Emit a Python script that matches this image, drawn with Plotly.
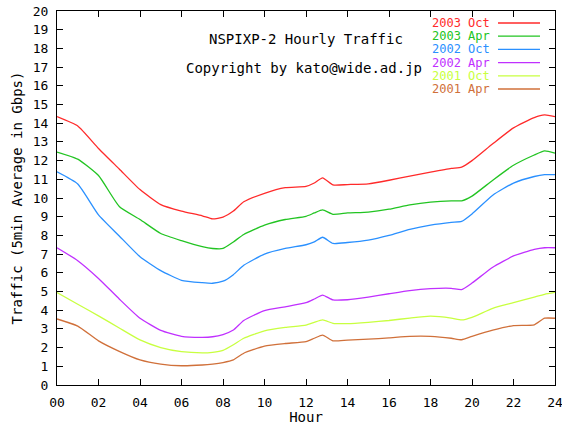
import plotly.graph_objects as go

hours = [0, 1, 2, 3, 4, 5, 6, 7, 7.5, 8, 8.5, 9, 10, 11, 12, 12.4, 12.8, 13.3, 14, 15, 16, 17, 18, 19, 19.5, 20, 21, 22, 23, 23.5, 24]

oct_2003 = [14.35, 13.85, 12.65, 11.55, 10.45, 9.65, 9.3, 9.05, 8.88, 8.98, 9.3, 9.8, 10.25, 10.55, 10.62, 10.8, 11.08, 10.7, 10.72, 10.76, 10.95, 11.17, 11.38, 11.58, 11.65, 12.0, 12.9, 13.75, 14.3, 14.44, 14.35]
apr_2003 = [12.46, 12.08, 11.2, 9.55, 8.85, 8.1, 7.72, 7.4, 7.3, 7.3, 7.65, 8.05, 8.55, 8.85, 9.02, 9.2, 9.36, 9.13, 9.2, 9.25, 9.4, 9.63, 9.78, 9.85, 9.85, 10.1, 10.95, 11.75, 12.3, 12.52, 12.4]
oct_2002 = [11.4, 10.75, 9.1, 7.97, 6.86, 6.12, 5.6, 5.47, 5.44, 5.55, 5.9, 6.4, 7.0, 7.3, 7.5, 7.65, 7.9, 7.57, 7.62, 7.75, 8.0, 8.32, 8.55, 8.7, 8.75, 9.15, 10.15, 10.8, 11.15, 11.25, 11.25]
apr_2002 = [7.34, 6.65, 5.7, 4.6, 3.57, 2.92, 2.6, 2.55, 2.58, 2.7, 2.94, 3.45, 3.98, 4.18, 4.4, 4.6, 4.81, 4.55, 4.56, 4.7, 4.88, 5.05, 5.15, 5.17, 5.1, 5.45, 6.3, 6.9, 7.25, 7.34, 7.34]
oct_2001 = [4.94, 4.32, 3.7, 3.05, 2.41, 2.0, 1.78, 1.72, 1.75, 1.85, 2.15, 2.5, 2.9, 3.08, 3.2, 3.35, 3.48, 3.3, 3.28, 3.35, 3.45, 3.58, 3.68, 3.58, 3.48, 3.62, 4.1, 4.4, 4.7, 4.85, 4.95]
apr_2001 = [3.53, 3.15, 2.36, 1.8, 1.34, 1.12, 1.03, 1.07, 1.12, 1.2, 1.34, 1.7, 2.08, 2.22, 2.32, 2.5, 2.67, 2.36, 2.4, 2.45, 2.52, 2.6, 2.6, 2.5, 2.42, 2.6, 2.93, 3.18, 3.22, 3.57, 3.57]

series_names = ["2003 Oct", "2003 Apr", "2002 Oct", "2002 Apr", "2001 Oct", "2001 Apr"]
series_values = [oct_2003, apr_2003, oct_2002, apr_2002, oct_2001, apr_2001]
colors = ["#ff2a2a", "#22c422", "#2a90ff", "#c030ff", "#c8ff40", "#d0703a"]

x_tick_vals = list(range(0, 25, 2))
x_tick_text = ["00", "02", "04", "06", "08", "10", "12", "14", "16", "18", "20", "22", "24"]
y_tick_vals = list(range(0, 21))

FONT = "DejaVu Sans Mono"

fig = go.Figure()
for name, vals, col in zip(series_names, series_values, colors):
    fig.add_trace(go.Scatter(x=hours, y=vals, mode="lines", name=name,
                             line=dict(color=col, width=1.3, shape="spline", smoothing=0.5),
                             showlegend=False))

# custom gnuplot-style legend (text right-aligned, sample line to the right)
W, H = 562, 425
ML, MR, MT, MB = 57, 7, 11, 40
pw, ph = W - ML - MR, H - MT - MB
def px(xp):
    return (xp - ML) / pw
def py(yp):
    return 1 - (yp - MT) / ph

shapes = []
annotations = []
for i, (name, col) in enumerate(zip(series_names, colors)):
    yrow = 23 + i * 13.2
    annotations.append(dict(x=px(491), y=py(yrow), xref="paper", yref="paper",
                            text=name, showarrow=False, xanchor="right", yanchor="middle",
                            borderpad=0,
                            font=dict(family=FONT, size=12, color=col)))
    shapes.append(dict(type="line", xref="paper", yref="paper",
                       x0=px(498), x1=px(540), y0=py(yrow), y1=py(yrow),
                       line=dict(color=col, width=1.3)))

annotations.append(dict(x=px(306), y=py(39), xref="paper", yref="paper",
                        text="NSPIXP-2 Hourly Traffic", showarrow=False,
                        xanchor="center", yanchor="middle",
                        font=dict(family=FONT, size=14, color="black")))
annotations.append(dict(x=px(423), y=py(68), xref="paper", yref="paper",
                        text="Copyright by kato@wide.ad.jp", showarrow=False,
                        xanchor="right", yanchor="middle", borderpad=0,
                        font=dict(family=FONT, size=14, color="black")))

fig.update_layout(
    width=W, height=H,
    margin=dict(l=ML, r=MR, t=MT, b=MB, autoexpand=False),
    paper_bgcolor="white", plot_bgcolor="white",
    font=dict(family=FONT, size=12, color="black"),
    shapes=shapes, annotations=annotations,
    showlegend=False,
)
fig.update_xaxes(range=[0, 24], tickvals=x_tick_vals, ticktext=x_tick_text,
                 automargin=False, ticklabeloverflow="allow",
                 showgrid=False, zeroline=False, showline=True, linecolor="black",
                 linewidth=1, mirror="ticks", ticks="inside", ticklen=6, tickcolor="black",
                 ticklabelstandoff=5, tickfont=dict(family=FONT, size=13),
                 title=dict(text="Hour", standoff=4, font=dict(family=FONT, size=14)))
fig.update_yaxes(range=[0, 20], tickvals=y_tick_vals,
                 automargin=False, ticklabeloverflow="allow",
                 showgrid=False, zeroline=False, showline=True, linecolor="black",
                 linewidth=1, mirror="ticks", ticks="inside", ticklen=6, tickcolor="black",
                 ticklabelstandoff=5, tickfont=dict(family=FONT, size=13),
                 title=dict(text="Traffic (5min Average in Gbps)", standoff=6,
                            font=dict(family=FONT, size=14)))

fig.write_html("out.html")
